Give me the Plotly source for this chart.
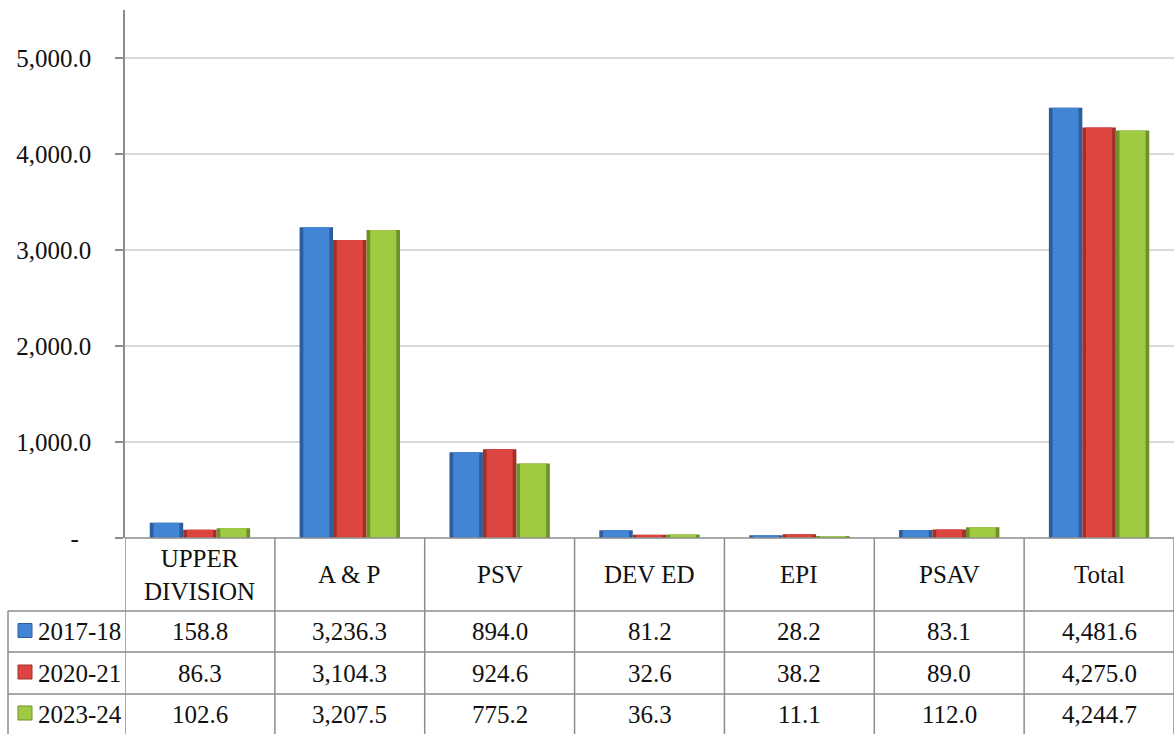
import plotly.graph_objects as go

categories = ["UPPER DIVISION", "A & P", "PSV", "DEV ED", "EPI", "PSAV", "Total"]
header_labels = ["UPPER<br>DIVISION", "A & P", "PSV", "DEV ED", "EPI", "PSAV", "Total"]
series_names = ["2017-18", "2020-21", "2023-24"]
v2017 = [158.8, 3236.3, 894.0, 81.2, 28.2, 83.1, 4481.6]
v2020 = [86.3, 3104.3, 924.6, 32.6, 38.2, 89.0, 4275.0]
v2023 = [102.6, 3207.5, 775.2, 36.3, 11.1, 112.0, 4244.7]
tick_vals = [0, 1000, 2000, 3000, 4000, 5000]
tick_text = ["-\u00a0\u00a0", "1,000.0", "2,000.0", "3,000.0", "4,000.0", "5,000.0"]

series_values = [v2017, v2020, v2023]
fill_colors = ["#4285d4", "#dc4540", "#a0ca42"]
edge_colors = ["#2c5e9e", "#a32e2a", "#6e912a"]

W, H = 1174, 734
FONT = "Liberation Serif"
FS = 25
plot_left, plot_top, plot_bottom = 125, 10, 538
row_lines = [611, 652, 694]
row_centers = [631.5, 673, 714]
header_center = 574.5
legend_left = 8
grid_color = "#8c8c8c"
group_width = 0.67
bar_w = group_width / len(series_names)
inner_frac = 0.78

def py(y):
    return 1 - y / H

def px(x):
    return x / W

fig = go.Figure()
for k, (name, vals, fc, ec) in enumerate(zip(series_names, series_values, fill_colors, edge_colors)):
    off = -group_width / 2 + k * bar_w
    fig.add_trace(go.Bar(
        x=categories, y=vals, name=name, width=bar_w, offset=off,
        marker=dict(color=ec, line=dict(width=0)),
        showlegend=False,
    ))
    iw = bar_w * inner_frac
    fig.add_trace(go.Bar(
        x=categories, y=vals, name=name, width=iw, offset=off + (bar_w - iw) / 2,
        marker=dict(color=fc, line=dict(width=0)),
        showlegend=False, hoverinfo="skip",
    ))

shapes = []
annotations = []
for i in range(len(categories) + 1):
    shapes.append(dict(type="line", xref="x", yref="paper",
                       x0=i - 0.5, x1=i - 0.5, y0=py(plot_bottom), y1=py(H),
                       line=dict(color=grid_color, width=1.5)))
shapes.append(dict(type="line", xref="paper", yref="paper",
                   x0=px(legend_left), x1=px(legend_left), y0=py(row_lines[0]), y1=py(H),
                   line=dict(color=grid_color, width=1.5)))
for yl in row_lines:
    shapes.append(dict(type="line", xref="paper", yref="paper",
                       x0=px(legend_left), x1=1, y0=py(yl), y1=py(yl),
                       line=dict(color=grid_color, width=1.5)))
shapes.append(dict(type="line", xref="paper", yref="paper",
                   x0=px(plot_left), x1=1, y0=py(plot_bottom), y1=py(plot_bottom),
                   line=dict(color=grid_color, width=1.5)))

for cat, lab in zip(categories, header_labels):
    annotations.append(dict(x=cat, xref="x", y=py(header_center), yref="paper",
                            text=lab, showarrow=False, yanchor="middle",
                            font=dict(family=FONT, size=FS, color="#111")))
for name, vals, fc, ec, yc in zip(series_names, series_values, fill_colors, edge_colors, row_centers):
    shapes.append(dict(type="rect", xref="paper", yref="paper",
                       x0=px(18), x1=px(32), y0=py(yc + 6), y1=py(yc - 8),
                       fillcolor=fc, line=dict(color=ec, width=1)))
    annotations.append(dict(x=px(36), xref="paper", y=py(yc), yref="paper",
                            text=name, showarrow=False, xanchor="left", yanchor="middle",
                            font=dict(family=FONT, size=FS, color="#111")))
    for cat, v in zip(categories, vals):
        annotations.append(dict(x=cat, xref="x", y=py(yc), yref="paper",
                                text=f"{v:,.1f}", showarrow=False, yanchor="middle",
                                font=dict(family=FONT, size=FS, color="#111")))

fig.update_layout(
    width=W, height=H, autosize=False,
    margin=dict(l=0, r=0, t=0, b=0),
    paper_bgcolor="white", plot_bgcolor="white",
    font=dict(family=FONT, size=FS, color="#111"),
    barmode="overlay",
    shapes=shapes, annotations=annotations,
    xaxis=dict(domain=[px(plot_left), 1], range=[-0.5, len(categories) - 0.5],
               showticklabels=False, showgrid=False, zeroline=False, showline=False,
               ticks=""),
    yaxis=dict(domain=[py(plot_bottom), py(plot_top)], range=[0, 5500],
               tickvals=tick_vals, ticktext=tick_text,
               showgrid=True, gridcolor="#d9d9d9", gridwidth=1.5,
               zeroline=False, showline=True, linecolor=grid_color, linewidth=1.5,
               ticks="outside", ticklen=8, tickcolor=grid_color, tickwidth=1.5,
               ticklabelstandoff=19, automargin=False,
               tickfont=dict(family=FONT, size=FS, color="#111")),
)

fig.write_html("out.html", config={"displayModeBar": False},
               post_script="document.body.style.margin='0';document.body.style.overflow='hidden';")
